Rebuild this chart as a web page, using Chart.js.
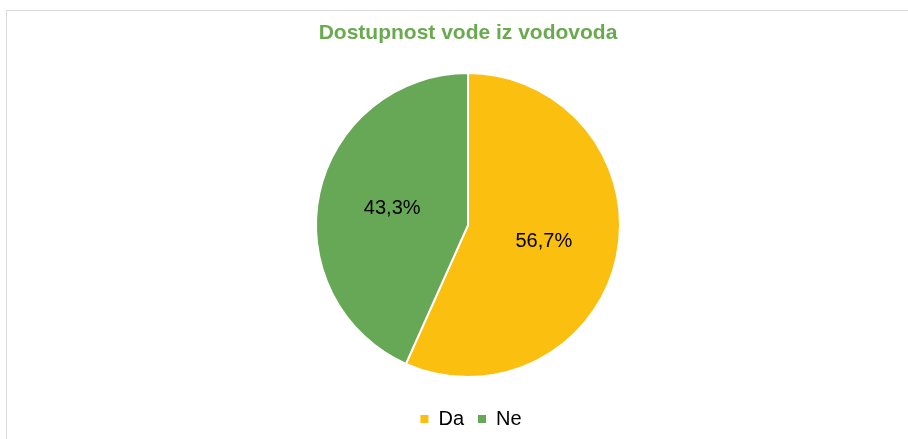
<!DOCTYPE html>
<html>
<head>
<meta charset="utf-8">
<script src="https://cdn.jsdelivr.net/npm/chart.js@4"></script>
<style>
  html, body { margin: 0; padding: 0; background: #fff; overflow: hidden; width: 908px; height: 439px; }
  .frame {
    position: absolute; left: 6px; top: 10px;
    width: 924px; height: 440px;
    border: 1px solid #d9d9d9; box-sizing: border-box;
  }
  #chart { position: absolute; left: 0; top: 0; }
</style>
</head>
<body>
<div class="frame">
  <canvas id="chart" width="922" height="428"></canvas>
</div>
<script>
const title = "Dostupnost vode iz vodovoda";
const categories = ["Da", "Ne"];
const shares = [56.7, 43.3];
const colors = ["#fbbf10", "#66a855"];

// percentage labels placed halfway out along each slice
const sliceLabels = {
  id: "sliceLabels",
  afterDatasetsDraw(chart) {
    const ctx = chart.ctx;
    const meta = chart.getDatasetMeta(0);
    ctx.save();
    ctx.font = "20px 'Liberation Sans', Arial, sans-serif";
    ctx.fillStyle = "#000";
    ctx.textAlign = "center";
    ctx.textBaseline = "middle";
    meta.data.forEach((arc, i) => {
      const p = arc.getProps(["x", "y", "startAngle", "endAngle", "outerRadius"], true);
      const mid = (p.startAngle + p.endAngle) / 2;
      const r = p.outerRadius * 0.51;
      const txt = shares[i].toFixed(1).replace(".", ",") + "%";
      ctx.fillText(txt, p.x + Math.cos(mid) * r, p.y + Math.sin(mid) * r);
    });
    ctx.restore();
  }
};

// legend sits a little right of the pie's centre line
const legendNudge = {
  id: "legendNudge",
  afterLayout(chart) {
    chart.legend.left += 3;
    chart.legend.right += 3;
  }
};

new Chart(document.getElementById("chart"), {
  type: "pie",
  data: {
    labels: categories,
    datasets: [{
      data: shares,
      backgroundColor: colors,
      borderColor: "#ffffff",
      borderWidth: 2,
      radius: 152,
    }]
  },
  options: {
    responsive: false,
    animation: false,
    layout: { padding: 0 },
    plugins: {
      tooltip: { enabled: false },
      title: {
        display: true,
        text: title,
        color: "#6aaa4f",
        font: { family: "'Liberation Sans', Arial, sans-serif", size: 21, weight: "bold" },
        padding: { top: 10, bottom: 9 },
      },
      legend: {
        position: "bottom",
        labels: {
          color: "#000",
          font: { family: "'Liberation Sans', Arial, sans-serif", size: 20 },
          boxWidth: 8,
          boxHeight: 8,
          padding: 14,
          generateLabels(chart) {
            const items = Chart.overrides.pie.plugins.legend.labels.generateLabels(chart);
            items.forEach(it => { it.lineWidth = 0; });
            return items;
          }
        }
      }
    }
  },
  plugins: [sliceLabels, legendNudge]
});
</script>
</body>
</html>
